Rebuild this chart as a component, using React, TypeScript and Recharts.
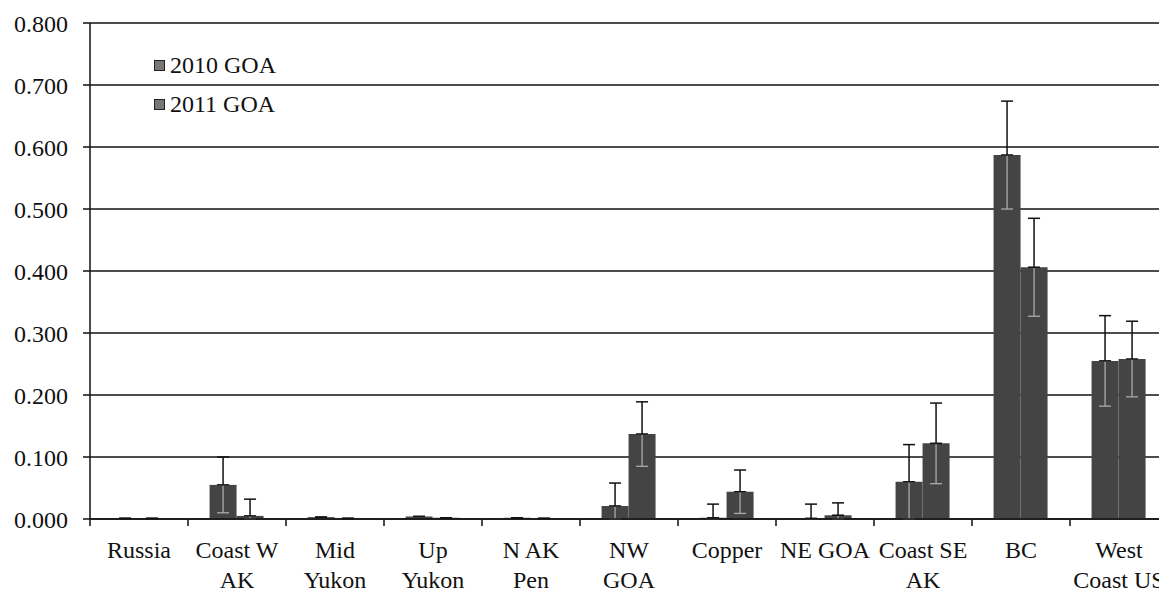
import { BarChart, Bar, XAxis, YAxis, CartesianGrid, ErrorBar, Legend } from 'recharts';

const categories = [
  'Russia', 'Coast W\nAK', 'Mid\nYukon', 'Up\nYukon', 'N AK\nPen', 'NW\nGOA',
  'Copper', 'NE GOA', 'Coast SE\nAK', 'BC', 'West\nCoast US',
];
const goa2010 = [0.001, 0.055, 0.003, 0.004, 0.002, 0.021, 0.002, 0.001, 0.060, 0.587, 0.255];
const goa2011 = [0.001, 0.005, 0.001, 0.002, 0.001, 0.137, 0.044, 0.006, 0.122, 0.406, 0.258];
const err2010 = [0, 0.045, 0, 0, 0, 0.037, 0.022, 0.023, 0.060, 0.087, 0.073];
const err2011 = [0, 0.027, 0, 0, 0, 0.052, 0.035, 0.020, 0.065, 0.079, 0.061];
const yTicks = [0, 0.1, 0.2, 0.3, 0.4, 0.5, 0.6, 0.7, 0.8];

// upper whisker drawn dark, lower whisker (inside the bar) drawn light
const data = categories.map((c, i) => ({
  name: c,
  g10: goa2010[i],
  g11: goa2011[i],
  up10: [0, err2010[i]],
  up11: [0, err2011[i]],
  lo10: [Math.min(goa2010[i], err2010[i]), 0],
  lo11: [Math.min(goa2011[i], err2011[i]), 0],
}));

const FONT = 'Liberation Serif';
const WIDTH = 1175;
const HEIGHT = 592;
const MARGIN = { top: 23, right: 7, bottom: 0, left: 0 };
const Y_W = 90;
const X_H = 73;
const BAND = (WIDTH - MARGIN.left - MARGIN.right - Y_W) / categories.length;

function CatTick(props: any) {
  const { x, y, payload, index } = props;
  const lines = String(payload.value).split('\n');
  return (
    <g>
      {index === 0 && <line x1={x - BAND / 2} x2={x - BAND / 2} y1={y} y2={y + 7} stroke="#111" strokeWidth={1.5} />}
      <line x1={x + BAND / 2} x2={x + BAND / 2} y1={y} y2={y + 7} stroke="#111" strokeWidth={1.5} />
      {lines.map((l, i) => (
        <text key={i} x={x} y={y + 39 + i * 30} textAnchor="middle" fill="#111" style={{ fontFamily: FONT, fontSize: 24 }}>
          {l}
        </text>
      ))}
    </g>
  );
}

function LegendBox() {
  const items = ['2010 GOA', '2011 GOA'];
  return (
    <div style={{ fontFamily: FONT, fontSize: 24, color: '#111', lineHeight: '39px', whiteSpace: 'nowrap' }}>
      {items.map((t) => (
        <div key={t} style={{ display: 'flex', alignItems: 'center' }}>
          <span style={{ display: 'inline-block', width: 9, height: 9, background: '#777', border: '1px solid #222', marginRight: 5 }} />
          {t}
        </div>
      ))}
    </div>
  );
}

export default function App() {
  return (
    <div style={{ position: 'fixed', left: 0, top: 0, width: 1159, height: 592, overflow: 'hidden', background: '#fff', fontFamily: FONT }}>
      <BarChart width={WIDTH} height={HEIGHT} data={data} margin={MARGIN} barGap={0} barCategoryGap="22%" style={{ fontFamily: FONT }}>
        <CartesianGrid vertical={false} stroke="#111" strokeWidth={1.5} />
        <XAxis
          dataKey="name"
          height={X_H}
          interval={0}
          tickLine={false}
          tickSize={0}
          tickMargin={0}
          axisLine={{ stroke: '#111', strokeWidth: 1.5 }}
          tick={<CatTick />}
        />
        <YAxis
          width={Y_W}
          domain={[0, 0.8]}
          ticks={yTicks}
          tickFormatter={(v: number) => v.toFixed(3)}
          tickSize={7}
          tickMargin={15}
          tickLine={{ stroke: '#111', strokeWidth: 1.5 }}
          axisLine={{ stroke: '#111', strokeWidth: 1.5 }}
          tick={{ fill: '#111', fontSize: 24, style: { fontFamily: FONT } }}
        />
        <Legend
          layout="vertical"
          verticalAlign="middle"
          align="center"
          wrapperStyle={{ left: 154, top: 46, width: 'auto', height: 'auto' }}
          content={() => <LegendBox />}
        />
        <Bar dataKey="g10" name="2010 GOA" fill="#444" isAnimationActive={false}>
          <ErrorBar dataKey="lo10" width={6} stroke="#aaa" strokeWidth={1.3} direction="y" />
          <ErrorBar dataKey="up10" width={6} stroke="#111" strokeWidth={1.5} direction="y" />
        </Bar>
        <Bar dataKey="g11" name="2011 GOA" fill="#444" isAnimationActive={false}>
          <ErrorBar dataKey="lo11" width={6} stroke="#aaa" strokeWidth={1.3} direction="y" />
          <ErrorBar dataKey="up11" width={6} stroke="#111" strokeWidth={1.5} direction="y" />
        </Bar>
      </BarChart>
    </div>
  );
}
